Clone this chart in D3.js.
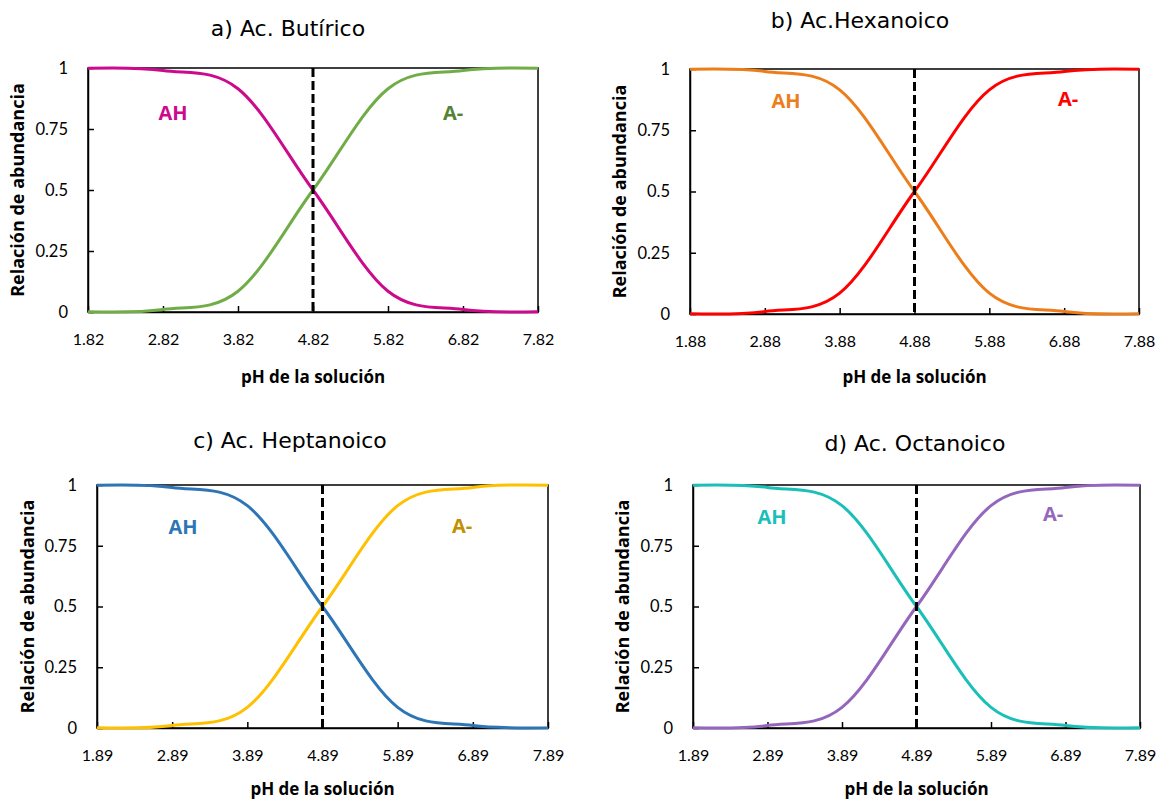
<!DOCTYPE html>
<html>
<head>
<meta charset="utf-8">
<script src="https://cdnjs.cloudflare.com/ajax/libs/d3/7.8.5/d3.min.js"></script>
<style>
  body { margin: 0; background: #fff; }
  text { font-family: Lato, "Open Sans", sans-serif; }
</style>
</head>
<body>
<div id="chart"></div>
<script>
// titles and pKa for each acid
var titles = ["a) Ac. Butírico", "b) Ac.Hexanoico", "c) Ac. Heptanoico", "d) Ac. Octanoico"];
var pKa = [4.82, 4.88, 4.89, 4.89];

// pH points (pKa - 3 ... pKa + 3)
var phButirico   = [1.82, 2.82, 3.82, 4.82, 5.82, 6.82, 7.82];
var phHexanoico  = [1.88, 2.88, 3.88, 4.88, 5.88, 6.88, 7.88];
var phHeptanoico = [1.89, 2.89, 3.89, 4.89, 5.89, 6.89, 7.89];
var phOctanoico  = [1.89, 2.89, 3.89, 4.89, 5.89, 6.89, 7.89];

// relacion de abundancia, forma protonada (AH) y disociada (A-)
var ahButirico   = [0.999, 0.990, 0.915, 0.5, 0.085, 0.010, 0.001];
var aButirico    = [0.001, 0.010, 0.085, 0.5, 0.915, 0.990, 0.999];
var ahHexanoico  = [0.999, 0.990, 0.915, 0.5, 0.085, 0.010, 0.001];
var aHexanoico   = [0.001, 0.010, 0.085, 0.5, 0.915, 0.990, 0.999];
var ahHeptanoico = [0.999, 0.990, 0.915, 0.5, 0.085, 0.010, 0.001];
var aHeptanoico  = [0.001, 0.010, 0.085, 0.5, 0.915, 0.990, 0.999];
var ahOctanoico  = [0.999, 0.990, 0.915, 0.5, 0.085, 0.010, 0.001];
var aOctanoico   = [0.001, 0.010, 0.085, 0.5, 0.915, 0.990, 0.999];

var yTicks = [0, 0.25, 0.5, 0.75, 1];

var width = 1158, height = 799;

var svg = d3.select('#chart')
  .append('svg')
  .attr('width', width)
  .attr('height', height);

// layout per panel (plot box, title, labels)
var panels = [
  { ph: phButirico, ah: ahButirico, a: aButirico,
    x0: 88, x1: 538, y0: 68, y1: 312, tx: 288, ty: 36, yl: 24, xl: 383,
    ahPos: [173, 120], aPos: [453, 120],
    cAH: '#CC0A8C', cA: '#70AD47', tAH: '#CC0A8C', tA: '#548235' },
  { ph: phHexanoico, ah: ahHexanoico, a: aHexanoico,
    x0: 690, x1: 1139, y0: 69, y1: 314, tx: 860, ty: 28, yl: 626, xl: 383,
    ahPos: [786, 108], aPos: [1068, 106],
    cAH: '#ED7D1A', cA: '#FF0000', tAH: '#ED7D1A', tA: '#FF0000' },
  { ph: phHeptanoico, ah: ahHeptanoico, a: aHeptanoico,
    x0: 97, x1: 548, y0: 485, y1: 728, tx: 290, ty: 448, yl: 34, xl: 795,
    ahPos: [183, 534], aPos: [462, 533],
    cAH: '#2E75B6', cA: '#FFC000', tAH: '#2E75B6', tA: '#BF9000' },
  { ph: phOctanoico, ah: ahOctanoico, a: aOctanoico,
    x0: 693, x1: 1140, y0: 485, y1: 728, tx: 915, ty: 451, yl: 629, xl: 795,
    ahPos: [772, 524], aPos: [1053, 521],
    cAH: '#1ABFB8', cA: '#9467BD', tAH: '#1ABFB8', tA: '#9467BD' }
];

panels.forEach(function(p, i) {
  var x = d3.scaleLinear()
    .domain([p.ph[0], p.ph[p.ph.length - 1]])
    .range([p.x0, p.x1]);
  var y = d3.scaleLinear()
    .domain([0, 1])
    .range([p.y1, p.y0]);

  var g = svg.append('g');

  // frame
  g.append('rect')
    .attr('x', p.x0).attr('y', p.y0)
    .attr('width', p.x1 - p.x0).attr('height', p.y1 - p.y0)
    .attr('fill', 'none')
    .attr('stroke', '#000')
    .attr('stroke-width', 1.5);

  // x axis, ticks inward
  var xAxis = d3.axisBottom(x)
    .tickValues(p.ph)
    .tickFormat(d3.format('.2f'))
    .tickSizeInner(-6)
    .tickSizeOuter(0)
    .tickPadding(22);
  var gx = g.append('g')
    .attr('transform', 'translate(0,' + p.y1 + ')')
    .call(xAxis);
  gx.select('.domain').attr('stroke-width', 1.5);
  gx.selectAll('.tick line').attr('stroke-width', 1.5);
  gx.selectAll('.tick text')
    .attr('font-size', 16)
    .attr('fill', '#000');

  // y axis, ticks inward
  var yAxis = d3.axisLeft(y)
    .tickValues(yTicks)
    .tickFormat(function(d) { return String(d); })
    .tickSizeInner(-6)
    .tickSizeOuter(0)
    .tickPadding(20);
  var gy = g.append('g')
    .attr('transform', 'translate(' + p.x0 + ',0)')
    .call(yAxis);
  gy.select('.domain').attr('stroke-width', 1.5);
  gy.selectAll('.tick line').attr('stroke-width', 1.5);
  gy.selectAll('.tick text')
    .attr('font-size', 16.5)
    .attr('fill', '#000');

  var line = d3.line()
    .x(function(d) { return x(d[0]); })
    .y(function(d) { return y(d[1]); })
    .curve(d3.curveCardinal.tension(0));

  // A- first, AH on top
  g.append('path')
    .datum(d3.zip(p.ph, p.a))
    .attr('d', line)
    .attr('fill', 'none')
    .attr('stroke', p.cA)
    .attr('stroke-width', 3);
  g.append('path')
    .datum(d3.zip(p.ph, p.ah))
    .attr('d', line)
    .attr('fill', 'none')
    .attr('stroke', p.cAH)
    .attr('stroke-width', 3);

  // pKa dashed line
  g.append('line')
    .attr('x1', x(pKa[i])).attr('x2', x(pKa[i]))
    .attr('y1', y(1)).attr('y2', y(0))
    .attr('stroke', '#000')
    .attr('stroke-width', 3)
    .attr('stroke-dasharray', '9,4');

  // series labels
  g.append('text')
    .attr('x', p.ahPos[0]).attr('y', p.ahPos[1])
    .attr('text-anchor', 'middle')
    .attr('font-size', 20)
    .attr('font-weight', 'bold')
    .style('font-family', '"Open Sans", sans-serif')
    .attr('fill', p.tAH)
    .text('AH');
  g.append('text')
    .attr('x', p.aPos[0]).attr('y', p.aPos[1])
    .attr('text-anchor', 'middle')
    .attr('font-size', 20)
    .attr('font-weight', 'bold')
    .style('font-family', '"Open Sans", sans-serif')
    .attr('fill', p.tA)
    .text('A-');

  // title
  g.append('text')
    .attr('x', p.tx).attr('y', p.ty)
    .attr('text-anchor', 'middle')
    .attr('font-size', 22)
    .style('font-family', '"DejaVu Sans", sans-serif')
    .text(titles[i]);

  // axis titles
  g.append('text')
    .attr('x', (p.x0 + p.x1) / 2).attr('y', p.xl)
    .attr('text-anchor', 'middle')
    .attr('font-size', 17)
    .attr('font-weight', 'bold')
    .style('font-family', '"Open Sans", sans-serif')
    .text('pH de la solución');
  g.append('text')
    .attr('transform', 'translate(' + p.yl + ',' + (p.y0 + p.y1) / 2 + ') rotate(-90)')
    .attr('text-anchor', 'middle')
    .attr('font-size', 18)
    .attr('font-weight', 'bold')
    .style('font-family', '"Open Sans", sans-serif')
    .text('Relación de abundancia');
});
</script>
</body>
</html>
